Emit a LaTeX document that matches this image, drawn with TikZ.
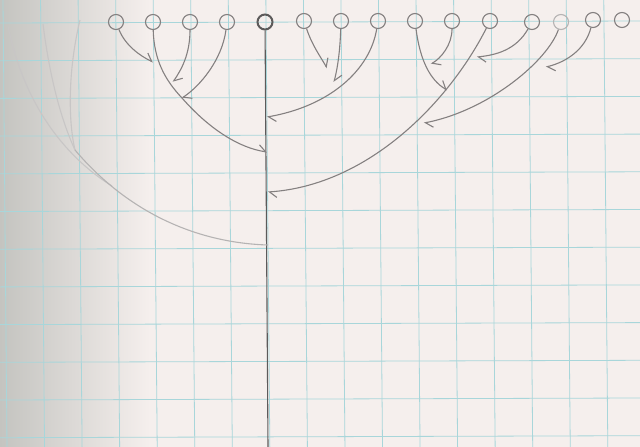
\documentclass[tikz,border=0pt]{standalone}
\usepackage{tikz}
\usetikzlibrary{arrows.meta,calc}

\definecolor{paper}{RGB}{245,239,237}
\definecolor{shadow}{RGB}{196,196,192}
\definecolor{gridblue}{RGB}{168,214,218}
\definecolor{pencil}{RGB}{132,128,128}

\begin{document}
\begin{tikzpicture}[
  x=1pt, y=-1pt,
  every node/.style={inner sep=0pt},
  leaf/.style={circle, draw=pencil, line width=1.1pt, minimum size=15pt},
  rootleaf/.style={leaf, draw=pencil!70!black, line width=2pt},
  merge/.style={draw=pencil, line width=1.1pt, -{Straight Barb[harpoon, length=7pt, width=12pt]}},
  faint/.style={draw=pencil!45, line width=1.1pt},
  trunk/.style={draw=pencil!70!black, line width=1.1pt},
  gridline/.style={draw=gridblue, line width=0.8pt}
]
  % --- Papier ---
  \useasboundingbox (0,0) rectangle (640,447);
  \fill[paper] (0,0) rectangle (640,447);
  \shade[left color=shadow, right color=paper] (0,0) rectangle (150,447);
  \foreach \k in {0,...,17}
    \draw[gridline] ({3+37.55*\k},0) -- ({7+37.55*\k},447);
  \foreach \k in {0,...,11}
    \draw[gridline] (0,{23+37.7*\k}) -- (640,{21+37.7*\k});

  % --- Blaetter ---
  \node[leaf] (l4) at (116,22) {};
  \node[leaf] (l3) at (153,22) {};
  \node[leaf] (l2) at (190,22) {};
  \node[leaf] (l1) at (227,22) {};
  \node[rootleaf] (root) at (265,22) {};
  \node[leaf] (r1) at (304,21) {};
  \node[leaf] (r2) at (341,21) {};
  \node[leaf] (r3) at (378,21) {};
  \node[leaf] (r4) at (415,21) {};
  \node[leaf] (r5) at (452,21) {};
  \node[leaf] (r6) at (490,21) {};
  \node[leaf] (r7) at (532,22) {};
  \node[leaf, draw=pencil!60] (r8) at (561,22) {};
  \node[leaf] (r9) at (593,20) {};
  \node[leaf] (r10) at (622,20) {};

  % --- Stamm ---
  \coordinate (bot) at (268,447);
  \draw[trunk] (root) -- (bot);
  \coordinate (j1) at (267,117);
  \coordinate (j2) at (267,152);
  \coordinate (j3) at (268,192);
  \coordinate (j4) at (268,245);

  % --- links ---
  \coordinate (m1) at (153,62);
  \coordinate (m2) at (173,82);
  \coordinate (m3) at (182,98);
  \draw[merge] (l4) .. controls (125,45) and (140,56) .. (m1);
  \draw[merge] (l2) .. controls (190,55) and (181,70) .. (m2);
  \draw[merge] (l1) .. controls (222,60) and (200,86) .. (m3);
  \draw[merge] (l3) .. controls (154,60) and (165,80) .. (m3)
                    .. controls (210,130) and (240,148) .. (j2);

  % --- ganz links, verblasst ---
  \coordinate (f1) at (80,20);
  \coordinate (f2) at (43,24);
  \coordinate (f3) at (8,26);
  \coordinate (lt) at (75,150);
  \coordinate (lm) at (112,186);
  \draw[faint] (f1) .. controls (68,70) and (68,120) .. (lt);
  \draw[faint] (f2) .. controls (50,80) and (62,122) .. (lt);
  \draw[faint] (f3) .. controls (25,110) and (70,160) .. (lm);
  \draw[faint, draw=pencil!60] (lt) .. controls (130,215) and (200,243) .. (j4);

  % --- rechts, erste Gruppe ---
  \coordinate (m4) at (327,68);
  \coordinate (m5) at (334,82);
  \draw[merge] (r1) .. controls (312,45) and (320,56) .. (m4);
  \draw[merge] (r2) .. controls (340,50) and (338,66) .. (m5);
  \draw[merge] (r3) .. controls (370,70) and (330,106) .. (j1);

  % --- rechts, zweite Gruppe ---
  \coordinate (m6) at (431,64);
  \coordinate (m7) at (447,90);
  \coordinate (m8) at (477,57);
  \coordinate (m9) at (424,123);
  \coordinate (m10) at (546,67);
  \draw[merge] (r5) .. controls (452,45) and (441,58) .. (m6);
  \draw[merge] (r4) .. controls (420,60) and (430,80) .. (m7);
  \draw[merge] (r7) .. controls (516,50) and (496,55) .. (m8);
  \draw[merge] (r9) .. controls (585,50) and (566,62) .. (m10);
  \draw[merge] (r8) .. controls (548,60) and (490,110) .. (m9);
  \draw[merge] (r6) .. controls (450,100) and (370,185) .. (j3);
\end{tikzpicture}
\end{document}
